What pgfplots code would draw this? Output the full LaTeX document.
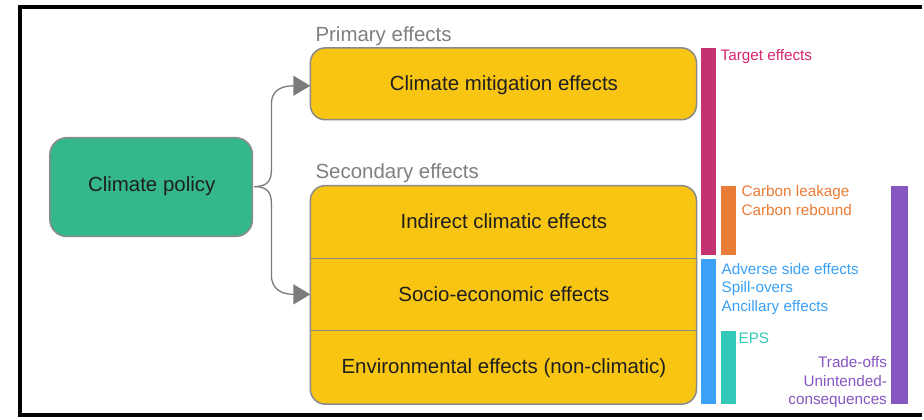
\documentclass[border=0pt]{standalone}
\usepackage{fontspec}
\setmainfont{Liberation Sans}
\usepackage{pgfplots}
\pgfplotsset{compat=1.18}
\usetikzlibrary{arrows.meta}

\definecolor{boxyellow}{HTML}{F8C513}
\definecolor{boxgreen}{HTML}{34B889}
\definecolor{edgegray}{HTML}{8A8A8A}
\definecolor{arrowgray}{HTML}{7C7C7C}
\definecolor{labgray}{HTML}{808080}
\definecolor{cTarget}{HTML}{C43271}
\definecolor{tTarget}{HTML}{D8256F}
\definecolor{cCarbon}{HTML}{E97C36}
\definecolor{cSide}{HTML}{3BA1F6}
\definecolor{cEPS}{HTML}{33C9B8}
\definecolor{cTrade}{HTML}{8656C1}

\newcommand{\boxfont}{\fontsize{20.5}{22}\selectfont}
\newcommand{\labfont}{\fontsize{15.3}{17}\selectfont}

% side bars: x0 x1 y0 y1 (pixel rows, top down)
\pgfplotstableread{
x0  x1  y0  y1
703 718 48  256
723 738 186 256
703 718 260 405
723 738 332 405
893 910 186 405
}\bars

\begin{document}
\begin{tikzpicture}
\begin{axis}[
    width=924pt, height=420pt, scale only axis,
    xmin=0, xmax=924, ymin=0, ymax=420,
    y dir=reverse,
    axis lines=none, ticks=none,
    clip=false,
]
% page background
\fill[white] (axis cs:0,0) rectangle (axis cs:924,420);
% frame
\draw[black, line width=4pt] (axis cs:924,7) -- (axis cs:20,7) -- (axis cs:20,416) -- (axis cs:924,416);

% coloured side bars
\foreach \c [count=\i from 0] in {cTarget,cCarbon,cSide,cEPS,cTrade} {
  \pgfplotstablegetelem{\i}{x0}\of\bars \let\xa\pgfplotsretval
  \pgfplotstablegetelem{\i}{x1}\of\bars \let\xb\pgfplotsretval
  \pgfplotstablegetelem{\i}{y0}\of\bars \let\ya\pgfplotsretval
  \pgfplotstablegetelem{\i}{y1}\of\bars \let\yb\pgfplotsretval
  \edef\tmp{\noexpand\fill[\c] (axis cs:\xa,\ya) rectangle (axis cs:\xb,\yb);}
  \tmp
}

% boxes
\draw[fill=boxgreen, draw=edgegray, line width=1.5pt, rounded corners=17pt]
  (axis cs:50,138) rectangle (axis cs:253,237);
\draw[fill=boxyellow, draw=edgegray, line width=1.5pt, rounded corners=15pt]
  (axis cs:311,48) rectangle (axis cs:698,120);
\draw[fill=boxyellow, draw=edgegray, line width=1.5pt, rounded corners=15pt]
  (axis cs:311,186) rectangle (axis cs:698,405);
\draw[edgegray, line width=1.5pt] (axis cs:311,259) -- (axis cs:698,259);
\draw[edgegray, line width=1.5pt] (axis cs:311,331) -- (axis cs:698,331);

% arrows
\draw[arrowgray, line width=1.3pt, -{Triangle[length=17pt,width=20pt]}]
  (axis cs:255,187) .. controls (axis cs:268,187) and (axis cs:272,181) .. (axis cs:272,170)
  -- (axis cs:272,104) .. controls (axis cs:272,92) and (axis cs:280,86) .. (axis cs:311,86);
\draw[arrowgray, line width=1.3pt, -{Triangle[length=17pt,width=20pt]}]
  (axis cs:255,187) .. controls (axis cs:268,187) and (axis cs:272,193) .. (axis cs:272,204)
  -- (axis cs:272,276) .. controls (axis cs:272,288) and (axis cs:280,295) .. (axis cs:311,295);

% box texts
\node[text=black!88, font=\boxfont] at (axis cs:152,187) {Climate policy};
\node[text=black!88, font=\boxfont] at (axis cs:505,85) {Climate mitigation effects};
\node[text=black!88, font=\boxfont] at (axis cs:505,222) {Indirect climatic effects};
\node[text=black!88, font=\boxfont] at (axis cs:505,295) {Socio-economic effects};
\node[text=black!88, font=\boxfont] at (axis cs:505,369) {Environmental effects (non-climatic)};

% headings
\node[text=labgray, font=\boxfont, anchor=base west, inner sep=0pt] at (axis cs:316,42) {Primary effects};
\node[text=labgray, font=\boxfont, anchor=base west, inner sep=0pt] at (axis cs:316,179) {Secondary effects};

% bar labels
\begin{scope}[every node/.style={font=\labfont, anchor=base west, inner sep=0pt}]
\node[text=tTarget] at (axis cs:722,61) {Target effects};
\node[text=cCarbon] at (axis cs:743,197) {Carbon leakage};
\node[text=cCarbon] at (axis cs:743,216) {Carbon rebound};
\node[text=cSide] at (axis cs:723,275) {Adverse side effects};
\node[text=cSide] at (axis cs:723,293) {Spill-overs};
\node[text=cSide] at (axis cs:723,312) {Ancillary effects};
\node[text=cEPS] at (axis cs:740,344) {EPS};
\end{scope}
\begin{scope}[every node/.style={font=\labfont, anchor=base east, inner sep=0pt, text=cTrade}]
\node at (axis cs:889,368) {Trade-offs};
\node at (axis cs:889,387) {Unintended-};
\node at (axis cs:889,405) {consequences};
\end{scope}
\end{axis}
\end{tikzpicture}
\end{document}
